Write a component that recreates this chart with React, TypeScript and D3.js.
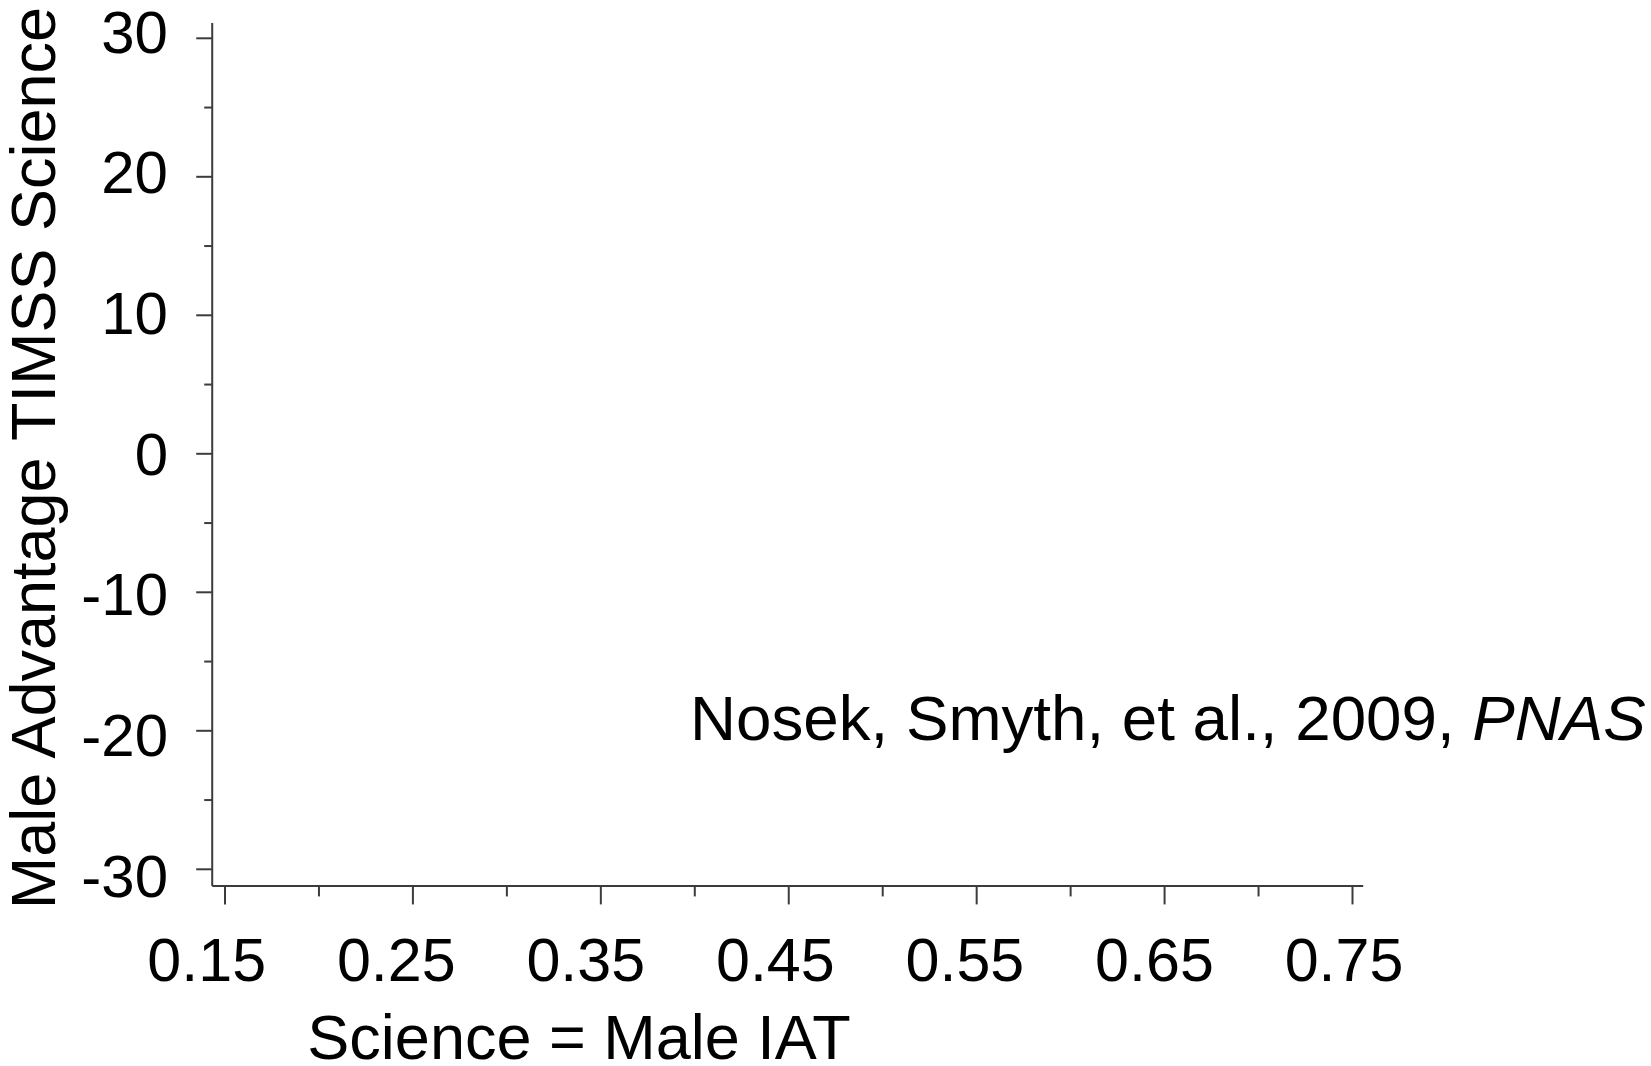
import React from "react";
import * as d3 from "d3";

// Axis ticks (values in data units)
const xMajorTicks = [0.15, 0.25, 0.35, 0.45, 0.55, 0.65, 0.75];
const xMinorTicks = [0.2, 0.3, 0.4, 0.5, 0.6, 0.7];
const yMajorTicks = [30, 20, 10, 0, -10, -20, -30];
const yMinorTicks = [25, 15, 5, -5, -15, -25];
const xTickLabels = ["0.15", "0.25", "0.35", "0.45", "0.55", "0.65", "0.75"];
const yTickLabels = ["30", "20", "10", "0", "-10", "-20", "-30"];
// Extent of the drawn axis lines
const xAxisExtent = [0.1432, 0.7557];
const yAxisExtent = [-31.2, 31.1];

const xTitle = "Science = Male IAT";
const yTitle = "Male Advantage TIMSS Science";
const citation = "Nosek, Smyth, et al., 2009, ";
const citationJournal = "PNAS";

const W = 1651;
const H = 1066;
const FONT = "'Liberation Sans', Arial, sans-serif";
const AXIS_COLOR = "#3c3c3c";

export default function App() {
  const x = d3.scaleLinear().domain([0.15, 0.75]).range([225, 1352.5]);
  const y = d3.scaleLinear().domain([-30, 30]).range([869.3, 38.3]);
  // tick labels are spread slightly differently from the ticks themselves
  const xLabel = d3.scaleLinear().domain([0.15, 0.75]).range([206.7, 1344]);
  const yLabel = d3.scaleLinear().domain([-30, 30]).range([875, 31]);

  const x0 = x(xAxisExtent[0]);
  const x1 = x(xAxisExtent[1]);
  const yBottom = y(yAxisExtent[0]);
  const yTop = y(yAxisExtent[1]);

  return (
    <svg
      width={W}
      height={H}
      viewBox={`0 0 ${W} ${H}`}
      style={{ position: "absolute", left: 0, top: 0, background: "#fff" }}
      fontFamily={FONT}
    >
      {/* y axis */}
      <line x1={x0} x2={x0} y1={yTop} y2={yBottom} stroke={AXIS_COLOR} strokeWidth={2} />
      {yMajorTicks.map((v) => (
        <line key={"ym" + v} x1={x0 - 16} x2={x0} y1={y(v)} y2={y(v)} stroke={AXIS_COLOR} strokeWidth={2} />
      ))}
      {yMinorTicks.map((v) => (
        <line key={"yn" + v} x1={x0 - 8} x2={x0} y1={y(v)} y2={y(v)} stroke={AXIS_COLOR} strokeWidth={2} />
      ))}
      {yMajorTicks.map((v, i) => (
        <text key={"yl" + v} x={168} y={yLabel(v) + 21.5} textAnchor="end" fontSize={60} fill="#000">
          {yTickLabels[i]}
        </text>
      ))}

      {/* x axis */}
      <line x1={x0} x2={x1} y1={yBottom} y2={yBottom} stroke={AXIS_COLOR} strokeWidth={2} />
      {xMajorTicks.map((v) => (
        <line key={"xm" + v} x1={x(v)} x2={x(v)} y1={yBottom} y2={yBottom + 18.5} stroke={AXIS_COLOR} strokeWidth={2} />
      ))}
      {xMinorTicks.map((v) => (
        <line key={"xn" + v} x1={x(v)} x2={x(v)} y1={yBottom} y2={yBottom + 10.5} stroke={AXIS_COLOR} strokeWidth={2} />
      ))}
      {xMajorTicks.map((v, i) => (
        <text key={"xl" + v} x={xLabel(v)} y={980.5} textAnchor="middle" fontSize={61} fill="#000">
          {xTickLabels[i]}
        </text>
      ))}

      {/* axis titles */}
      <text x={579} y={1059} textAnchor="middle" fontSize={63} fill="#000">
        {xTitle}
      </text>
      <text
        transform={`translate(55, 458) rotate(-90)`}
        textAnchor="middle"
        fontSize={63}
        fill="#000"
      >
        {yTitle}
      </text>

      {/* citation */}
      <text x={690} y={740} fontSize={63.7} fill="#000">
        {citation}
        <tspan fontStyle="italic">{citationJournal}</tspan>
      </text>
    </svg>
  );
}
